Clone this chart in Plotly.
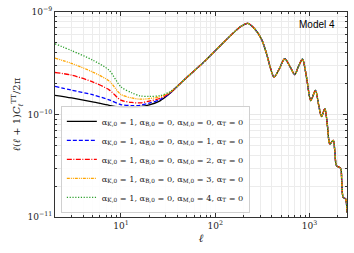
import plotly.graph_objects as go

# ---- data ----
ell_low = [2, 3, 5, 7.5, 10, 13, 16, 20, 26, 33]
cl_black_low = [1.54e-10, 1.45e-10, 1.33e-10, 1.23e-10, 1.18e-10, 1.17e-10, 1.19e-10, 1.24e-10, 1.36e-10, 1.60e-10]
cl_blue_low = [1.88e-10, 1.73e-10, 1.56e-10, 1.39e-10, 1.25e-10, 1.22e-10, 1.23e-10, 1.29e-10, 1.40e-10, 1.61e-10]
cl_red_low = [2.57e-10, 2.42e-10, 2.08e-10, 1.74e-10, 1.38e-10, 1.31e-10, 1.30e-10, 1.35e-10, 1.44e-10, 1.62e-10]
cl_orange_low = [3.55e-10, 3.15e-10, 2.60e-10, 2.12e-10, 1.57e-10, 1.45e-10, 1.41e-10, 1.43e-10, 1.49e-10, 1.64e-10]
cl_green_low = [4.90e-10, 4.20e-10, 3.40e-10, 2.70e-10, 1.86e-10, 1.63e-10, 1.52e-10, 1.50e-10, 1.53e-10, 1.66e-10]

ell_high = [40, 50, 76, 116, 160, 190, 222, 260, 308, 350, 385, 421, 470, 546, 620, 698,
            770, 843, 930, 1033, 1158, 1250, 1342, 1456, 1550, 1644, 1786, 1860, 1937,
            2135, 2200, 2280, 2415, 2500]
cl_high = [1.90e-10, 2.30e-10, 3.26e-10, 4.80e-10, 6.40e-10, 7.30e-10, 7.75e-10, 6.90e-10,
           5.50e-10, 3.95e-10, 2.85e-10, 2.32e-10, 2.70e-10, 3.50e-10, 2.95e-10, 2.45e-10,
           3.00e-10, 3.46e-10, 2.32e-10, 1.37e-10, 1.72e-10, 1.25e-10, 9.55e-11, 1.14e-10,
           7.80e-11, 5.15e-11, 5.60e-11, 4.30e-11, 3.16e-11, 3.00e-11, 2.20e-11, 1.55e-11,
           1.50e-11, 1.10e-11]

labels = [
    "α<sub>K,0</sub> = 1, α<sub>B,0</sub> = 0, α<sub>M,0</sub> = 0, α<sub>T</sub> = 0",
    "α<sub>K,0</sub> = 1, α<sub>B,0</sub> = 0, α<sub>M,0</sub> = 1, α<sub>T</sub> = 0",
    "α<sub>K,0</sub> = 1, α<sub>B,0</sub> = 0, α<sub>M,0</sub> = 2, α<sub>T</sub> = 0",
    "α<sub>K,0</sub> = 1, α<sub>B,0</sub> = 0, α<sub>M,0</sub> = 3, α<sub>T</sub> = 0",
    "α<sub>K,0</sub> = 1, α<sub>B,0</sub> = 0, α<sub>M,0</sub> = 4, α<sub>T</sub> = 0",
]
lows = [cl_black_low, cl_blue_low, cl_red_low, cl_orange_low, cl_green_low]
colors = ["black", "blue", "red", "orange", "#2ca02c"]
dashes = ["solid", "4px,2px", "5px,1.5px,1px,1.5px", "3px,1px,1px,1px,1px,1px", "1.2px,1.6px"]

x_tickvals = [10, 100, 1000]
x_ticktext = ["10<sup>1</sup>", "10<sup>2</sup>", "10<sup>3</sup>"]
y_tickvals = [1e-11, 1e-10, 1e-9]
y_ticktext = ["10<sup>−11</sup>", "10<sup>−10</sup>", "10<sup>−9</sup>"]

fig = go.Figure()
for lab, low, col, dash in zip(labels, lows, colors, dashes):
    fig.add_trace(go.Scatter(
        x=ell_low + ell_high, y=low + cl_high, mode="lines", name=lab,
        line=dict(color=col, width=1.3, dash=dash, shape="spline", smoothing=0.8),
    ))

x_minor = [m * d for d in [1, 10, 100, 1000] for m in range(2, 10)]
y_minor = [m * d for d in [1e-11, 1e-10] for m in range(2, 10)]

axis_common = dict(
    type="log", showline=True, linecolor="#333", linewidth=1, mirror="ticks",
    ticks="inside", ticklen=4, tickcolor="#333", showgrid=True, gridcolor="#e8e8e8",
    gridwidth=0.8, zeroline=False, automargin=False,
    tickfont=dict(family="DejaVu Serif", size=9, color="#222"),
)

fig.update_xaxes(
    **axis_common, range=[0.301, 3.398], tickmode="array", tickvals=x_tickvals, ticktext=x_ticktext,
    minor=dict(tickmode="array", tickvals=x_minor, ticks="inside", ticklen=2, tickcolor="#333",
               showgrid=True, gridcolor="#ececec", gridwidth=0.8),
    title=dict(text="<i>ℓ</i>", font=dict(family="DejaVu Serif", size=11, color="#222"), standoff=4),
)
fig.update_yaxes(
    **axis_common, range=[-11, -9], tickmode="array", tickvals=y_tickvals, ticktext=y_ticktext,
    minor=dict(tickmode="array", tickvals=y_minor, ticks="inside", ticklen=2, tickcolor="#333",
               showgrid=True, gridcolor="#ececec", gridwidth=0.8),
    title=dict(text="<i>ℓ</i>(<i>ℓ</i> + 1)<i>C</i><sub><i>ℓ</i></sub><sup>TT</sup>/2π",
               font=dict(family="DejaVu Serif", size=10, color="#222"), standoff=4),
)

fig.add_annotation(
    x=0.966, y=0.94, xref="paper", yref="paper", xanchor="right", yanchor="middle",
    text="Model 4", showarrow=False, font=dict(family="Liberation Sans", size=10, color="black"),
)

fig.update_layout(
    width=354, height=253, margin=dict(l=55, r=7, t=12, b=36, autoexpand=False),
    paper_bgcolor="white", plot_bgcolor="white",
    showlegend=True,
    legend=dict(x=0.02, y=0.02, xanchor="left", yanchor="bottom",
                bgcolor="rgba(255,255,255,0.9)", bordercolor="#d0d0d0", borderwidth=1,
                font=dict(family="DejaVu Serif", size=8.2, color="#222"),
                itemwidth=30, tracegroupgap=0),
)

fig.write_html("out.html", config={"displayModeBar": False},
               post_script="document.body.style.margin='0px';")
